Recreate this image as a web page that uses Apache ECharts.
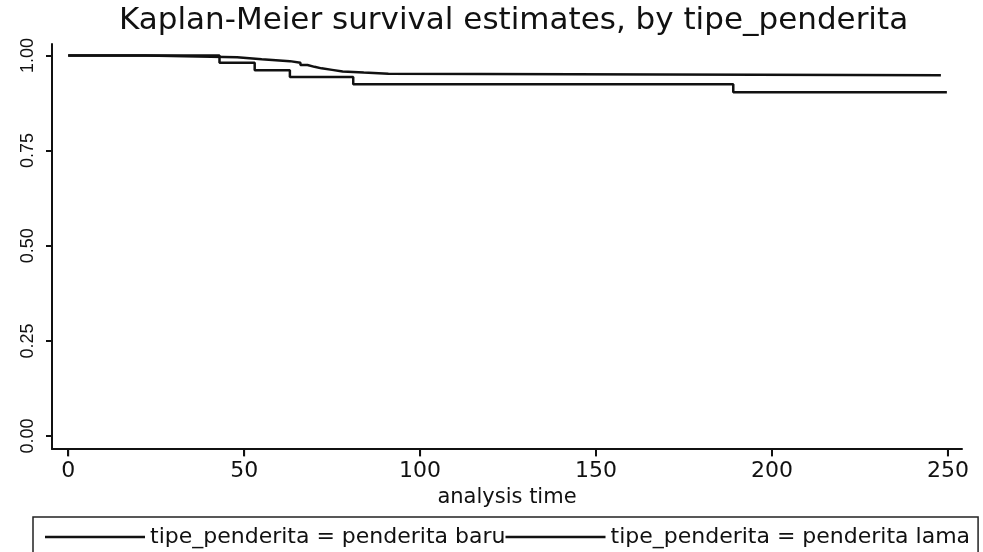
<!DOCTYPE html>
<html>
<head>
<meta charset="utf-8">
<script src="https://cdn.jsdelivr.net/npm/echarts@6/dist/echarts.min.js"></script>
<style>
  html, body { margin: 0; padding: 0; background: #fff; }
  #main { width: 983px; height: 552px; }
</style>
</head>
<body>
<div id="main"></div>
<script>
// Kaplan-Meier step points [analysis time, survival]
var baruTime = [0, 22, 33, 48, 55, 63, 66, 68, 70, 72, 75, 78, 84, 91, 248];
var baruSurv = [1.0, 0.998, 0.995, 0.99, 0.985, 0.981, 0.975, 0.97, 0.966, 0.962, 0.958, 0.955, 0.952, 0.948, 0.947];
var lamaTime = [0, 43, 53, 63, 81, 189, 249.7];
var lamaSurv = [1.0, 0.981, 0.961, 0.943, 0.924, 0.903, 0.903];

var xTicks = [0, 50, 100, 150, 200, 250];
var yTicks = [0, 0.25, 0.5, 0.75, 1];
var seriesNames = ['tipe_penderita = penderita baru', 'tipe_penderita = penderita lama'];

var xMin = -4.6, xMax = 254;
var yMin = -0.034, yMax = 1.03;

function pairs(t, s) {
    var out = [];
    for (var i = 0; i < t.length; i++) out.push([t[i], s[i]]);
    return out;
}

var wide = 'DejaVu Sans, sans-serif';
var narrow = 'Liberation Sans, Arial, sans-serif';
var ink = '#111';

var myChart = echarts.init(document.getElementById('main'));
myChart.setOption({
    backgroundColor: '#fff',
    animation: false,
    title: {
        text: 'Kaplan-Meier survival estimates, by tipe_penderita',
        left: 114,
        top: 0,
        textStyle: { fontFamily: wide, fontSize: 31, fontWeight: 'normal', color: ink }
    },
    legend: {
        data: seriesNames,
        left: 33,
        top: 517,
        itemWidth: 100,
        itemHeight: 2.5,
        itemGap: 0,
        padding: [9, 8, 30, 12],
        borderColor: '#222',
        borderWidth: 1.5,
        icon: 'rect',
        textStyle: { fontFamily: wide, fontSize: 22, color: ink }
    },
    grid: { left: 52, right: 21, top: 44, bottom: 103, outerBoundsMode: 'none' },
    xAxis: {
        type: 'value',
        min: xMin,
        max: xMax,
        name: 'analysis time',
        nameLocation: 'middle',
        nameGap: 32,
        nameTextStyle: { fontFamily: wide, fontSize: 21, color: ink },
        axisLine: { onZero: false, lineStyle: { color: ink, width: 2 } },
        axisTick: { show: true, inside: false, length: 7, customValues: xTicks, lineStyle: { color: ink, width: 2 } },
        axisLabel: { customValues: xTicks, margin: 11, fontFamily: wide, fontSize: 22, color: ink },
        splitLine: { show: false }
    },
    yAxis: {
        type: 'value',
        min: yMin,
        max: yMax,
        axisLine: { show: true, onZero: false, lineStyle: { color: ink, width: 2 } },
        axisTick: { show: true, inside: false, length: 6, customValues: yTicks, lineStyle: { color: ink, width: 2 } },
        axisLabel: {
            customValues: yTicks,
            rotate: 90,
            margin: 15,
            fontFamily: narrow,
            fontSize: 18,
            color: ink,
            formatter: function (v) { return v.toFixed(2); }
        },
        splitLine: { show: false }
    },
    series: [
        {
            name: seriesNames[0],
            type: 'line',
            step: 'end',
            showSymbol: false,
            color: ink,
            lineStyle: { color: ink, width: 2.5 },
            data: pairs(baruTime, baruSurv)
        },
        {
            name: seriesNames[1],
            type: 'line',
            step: 'end',
            showSymbol: false,
            color: ink,
            lineStyle: { color: ink, width: 2.5 },
            data: pairs(lamaTime, lamaSurv)
        },
        {
            // outward tick marks under the x axis
            name: 'xticks',
            type: 'scatter',
            silent: true,
            clip: false,
            symbol: 'rect',
            symbolSize: [2, 7],
            symbolOffset: [0, 4],
            itemStyle: { color: ink },
            data: xTicks.map(function (v) { return [v, yMin]; })
        }
    ]
});
</script>
</body>
</html>
